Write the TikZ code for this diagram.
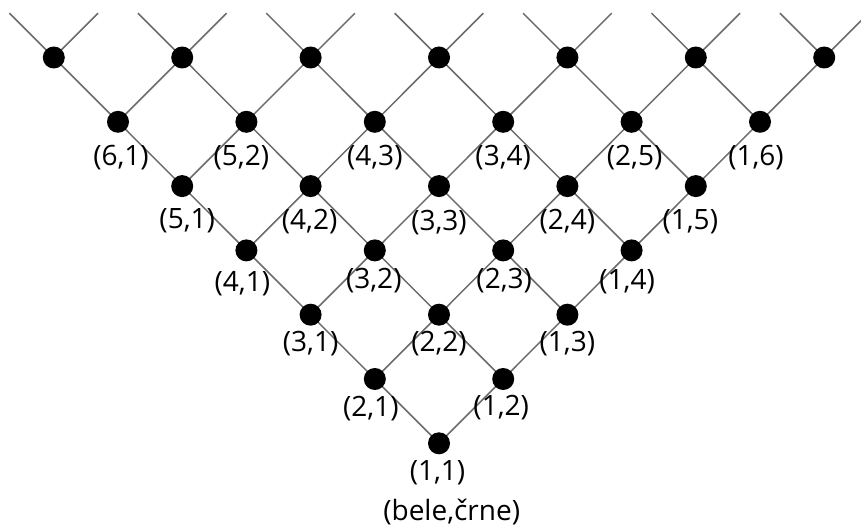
\documentclass[tikz,border=0pt]{standalone}
\usepackage{fontspec}
\setmainfont{Open Sans}
\usetikzlibrary{backgrounds,calc}
\begin{document}
\begin{tikzpicture}[x=1pt,y=-1pt,
  dot/.style={circle,fill=black,inner sep=0pt,minimum size=22pt},
  edge/.style={draw=black!58,line width=1.5pt},
  lbl/.style={font=\fontsize{28}{32}\selectfont,inner sep=0pt,anchor=center}]
\useasboundingbox (0,0) rectangle (861,526);
% dots
\foreach \s in {2,...,8}{
  \pgfmathtruncatemacro\m{\s-1}
  \foreach \a in {1,...,\m}{
    \pgfmathtruncatemacro\b{\s-\a}
    \node[dot] (n-\a-\b) at ({439+(\b-\a)*64.2},{443.3-(\s-2)*64.3}) {};
  }
}
% edges
\begin{scope}[on background layer]
\foreach \s in {2,...,7}{
  \pgfmathtruncatemacro\m{\s-1}
  \foreach \a in {1,...,\m}{
    \pgfmathtruncatemacro\b{\s-\a}
    \pgfmathtruncatemacro\ap{\a+1}
    \pgfmathtruncatemacro\bp{\b+1}
    \draw[edge] (n-\a-\b.center) -- (n-\ap-\b.center);
    \draw[edge] (n-\a-\b.center) -- (n-\a-\bp.center);
  }
}
\foreach \a in {1,...,7}{
  \pgfmathtruncatemacro\b{8-\a}
  \coordinate (tl-\a) at ($(n-\a-\b.center)+(-44.3,-44.3)$);
  \coordinate (tr-\a) at ($(n-\a-\b.center)+(44.3,-44.3)$);
  \draw[edge] (n-\a-\b.center) -- (tl-\a);
  \draw[edge] (n-\a-\b.center) -- (tr-\a);
}
\end{scope}
% labels
\foreach \a/\b/\dx/\dy in {
  6/1/3/35.5, 5/2/-5/35.5, 4/3/0/35.5, 3/4/0/35.5, 2/5/3/35.5, 1/6/-4/35.5,
  5/1/5/35, 4/2/-1/35, 3/3/0/36, 2/4/0/35.5, 1/5/-5.5/35.5,
  4/1/-4/33.5, 3/2/-1/30.5, 2/3/1/30, 1/4/-4.5/31,
  3/1/0/29, 2/2/0/28.5, 1/3/0/28.5,
  2/1/-4/30, 1/2/-2/29,
  1/1/-1.5/29}{
  \node[lbl] (l-\a-\b) at ($(n-\a-\b.center)+(\dx,\dy)$) {(\a,\b)};
}
\node[lbl] (title) at (451.7,511.5) {(bele,črne)};
\end{tikzpicture}
\end{document}
